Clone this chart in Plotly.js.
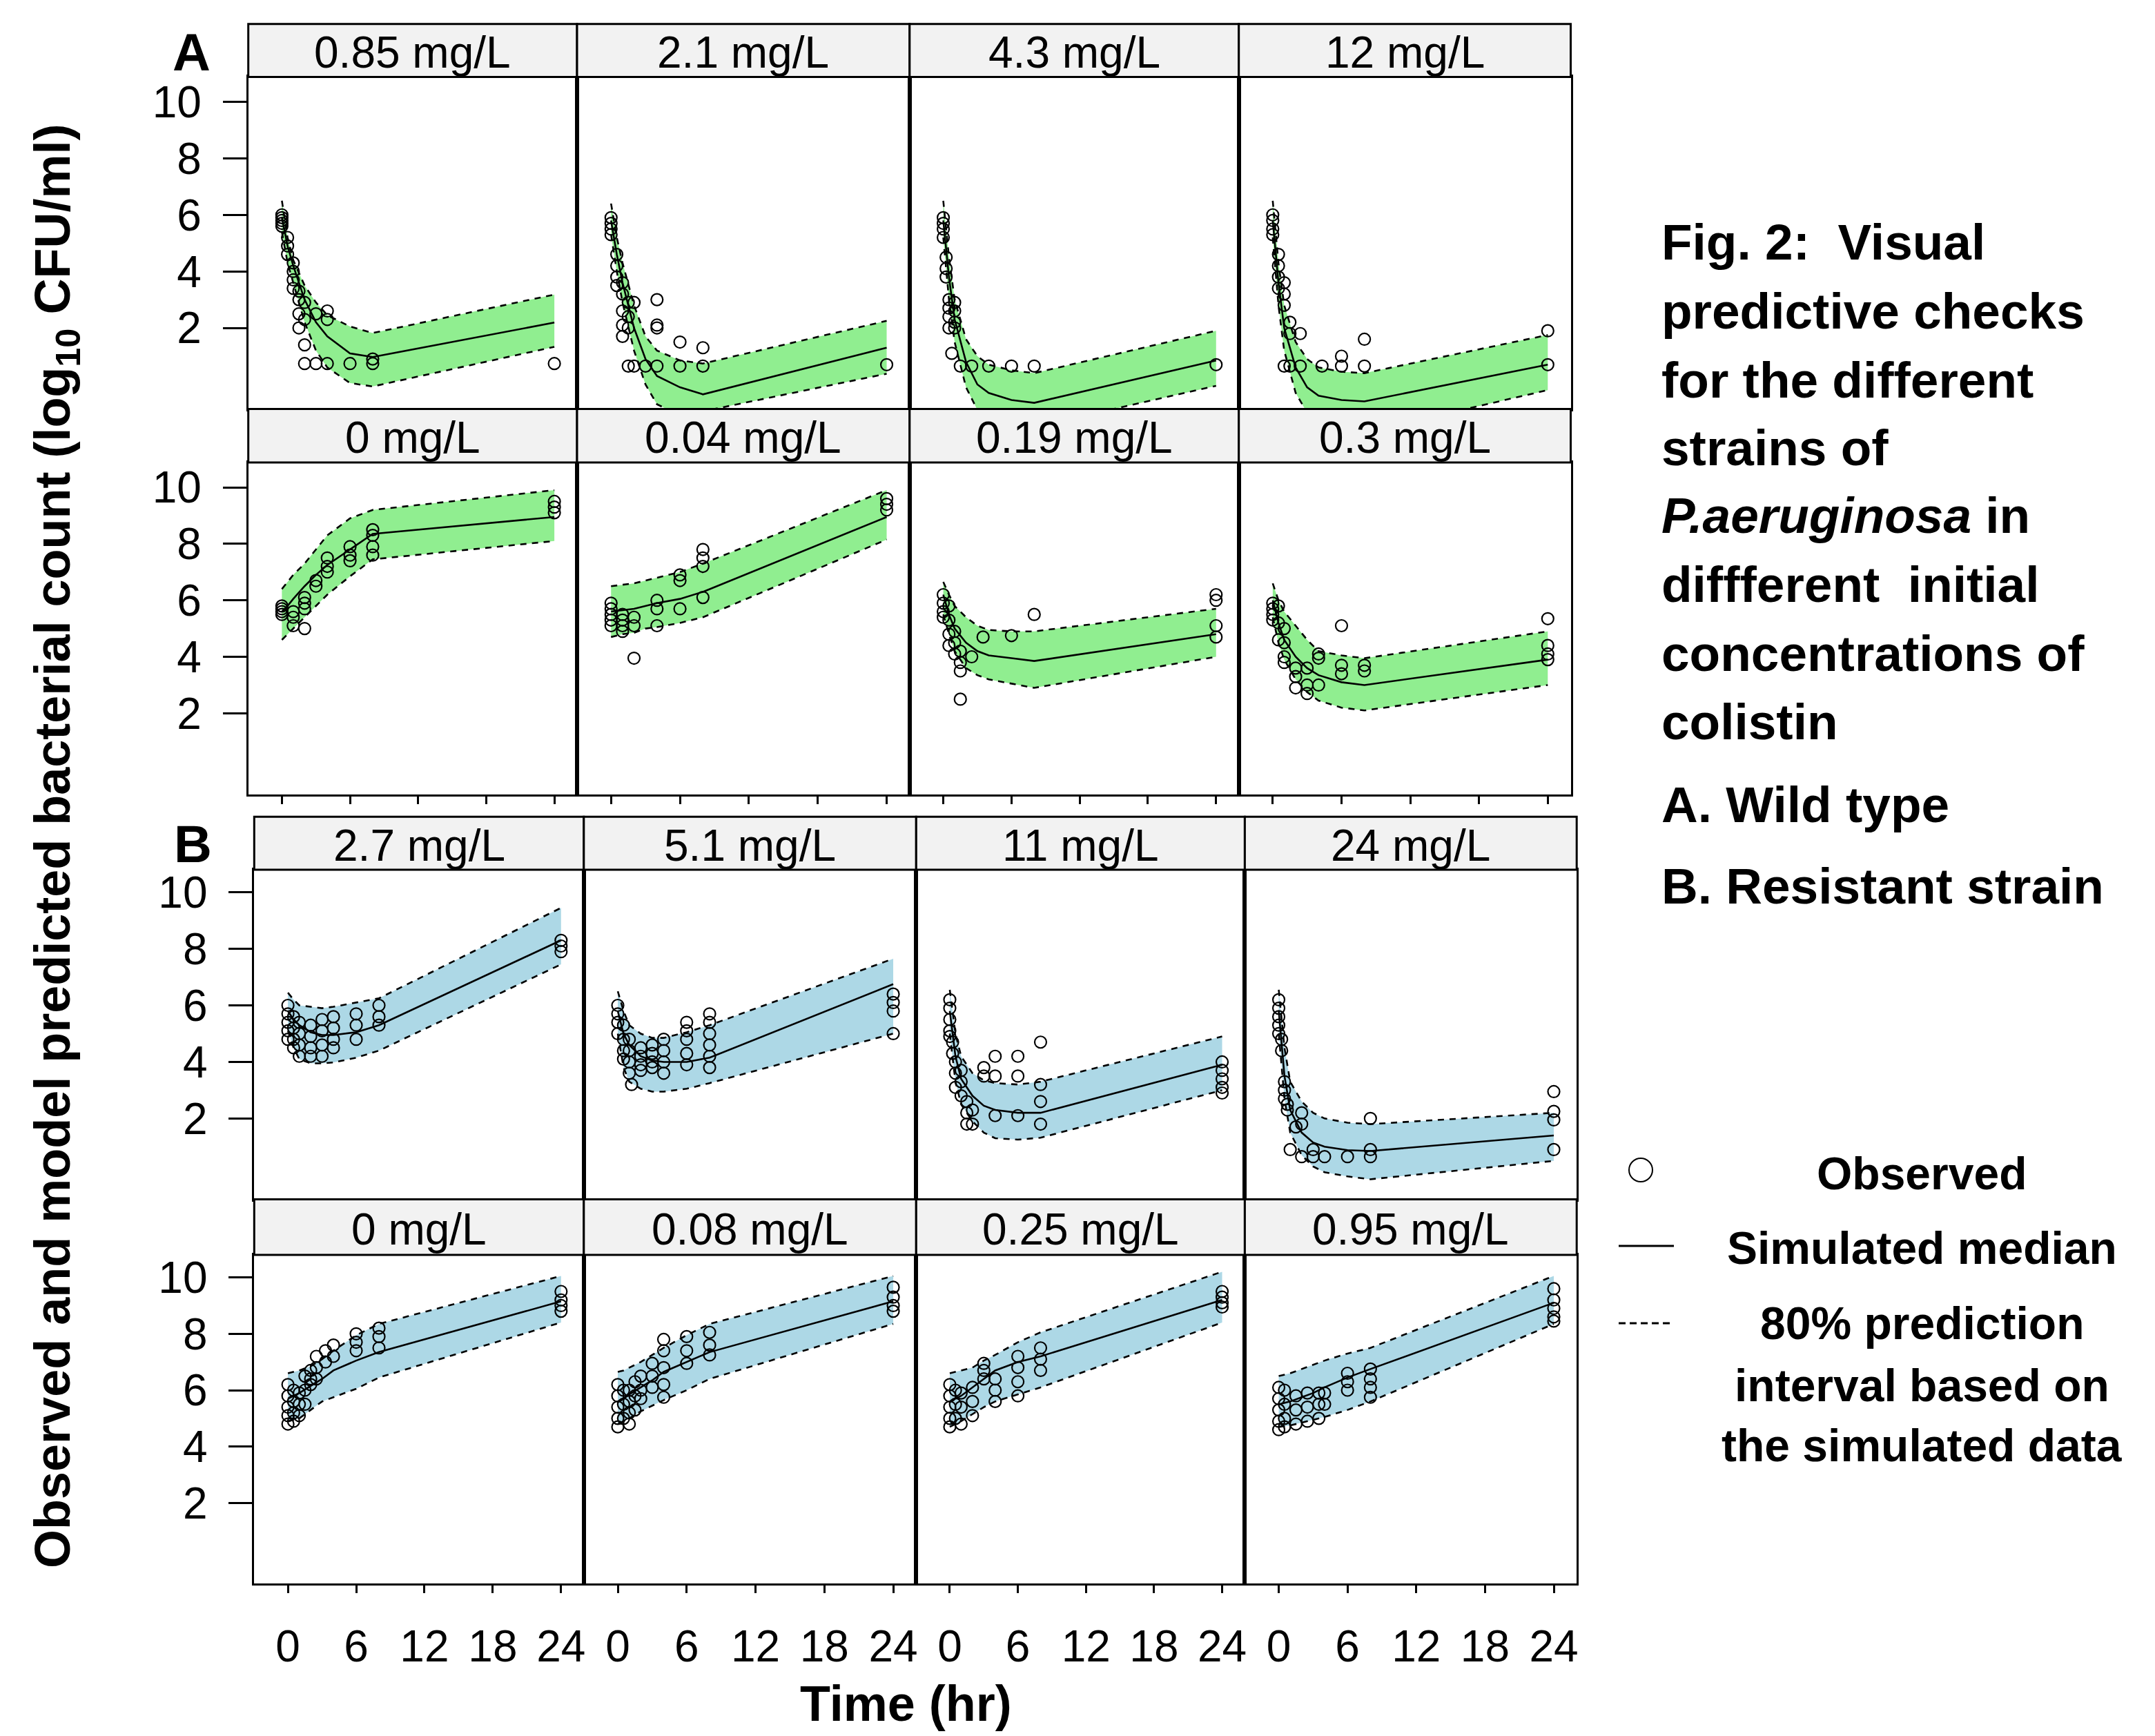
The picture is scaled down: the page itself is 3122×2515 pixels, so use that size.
<!DOCTYPE html>
<html><head><meta charset="utf-8">
<script src="https://cdn.plot.ly/plotly-3.0.1.min.js"></script>
<style>body{margin:0;background:#fff}#chart{width:3122px;height:2515px}</style>
</head><body><div id="chart"></div>
<script>
// ---------------- DATA ----------------
const simTime = [0, 0.5, 1, 2, 3, 4, 6, 8, 24];
const xTickVals = [0, 6, 12, 18, 24];
const yTickVals = [2, 4, 6, 8, 10];

const labelsWild = ['0.85 mg/L', '2.1 mg/L', '4.3 mg/L', '12 mg/L', '0 mg/L', '0.04 mg/L', '0.19 mg/L', '0.3 mg/L'];
const labelsResistant = ['2.7 mg/L', '5.1 mg/L', '11 mg/L', '24 mg/L', '0 mg/L', '0.08 mg/L', '0.25 mg/L', '0.95 mg/L'];

// simulated median / 10th / 90th percentile at simTime (wild type)
const wildMedian = [
  [5.9, 4.9, 4.2, 3.0, 2.2, 1.7, 1.1, 0.97, 2.19],
  [5.8, 4.6, 3.6, 2.0, 0.9, 0.3, -0.1, -0.35, 1.3],
  [5.8, 3.8, 2.3, 0.8, 0.0, -0.3, -0.55, -0.65, 0.85],
  [5.8, 3.6, 2.0, 0.6, -0.1, -0.4, -0.55, -0.6, 0.7],
  [5.6, 5.8, 6.05, 6.5, 6.9, 7.25, 7.8, 8.35, 8.95],
  [5.6, 5.62, 5.65, 5.7, 5.8, 5.9, 6.05, 6.3, 8.95],
  [6.2, 5.5, 5.0, 4.5, 4.2, 4.05, 3.95, 3.85, 4.8],
  [6.0, 5.2, 4.6, 4.0, 3.6, 3.35, 3.1, 3.0, 3.9]
];
const wildLower = [
  [5.4, 4.3, 3.6, 2.2, 1.2, 0.6, 0.05, -0.07, 1.33],
  [5.3, 4.0, 2.9, 1.2, 0.0, -0.7, -1.1, -0.95, 0.38],
  [5.2, 3.0, 1.5, -0.1, -0.9, -1.3, -1.5, -1.5, -0.05],
  [5.2, 2.8, 1.2, -0.3, -1.0, -1.4, -1.6, -1.7, -0.2],
  [4.6, 4.8, 5.0, 5.4, 5.8, 6.2, 6.85, 7.45, 8.1],
  [4.7, 4.75, 4.8, 4.85, 5.0, 5.05, 5.2, 5.4, 8.15],
  [5.5, 4.8, 4.2, 3.6, 3.35, 3.2, 3.05, 2.9, 4.0],
  [5.4, 4.5, 3.9, 3.2, 2.75, 2.45, 2.2, 2.1, 3.0]
];
const wildUpper = [
  [6.5, 5.2, 4.4, 3.5, 2.9, 2.45, 2.05, 1.82, 3.18],
  [6.4, 5.2, 4.3, 2.8, 1.7, 1.2, 0.85, 0.74, 2.25],
  [6.5, 4.5, 3.0, 1.6, 1.0, 0.7, 0.5, 0.4, 1.9],
  [6.5, 4.3, 2.8, 1.5, 0.9, 0.6, 0.45, 0.4, 1.75],
  [6.4, 6.65, 6.9, 7.3, 7.8, 8.3, 8.9, 9.2, 9.9],
  [6.5, 6.52, 6.55, 6.6, 6.7, 6.8, 7.0, 7.3, 9.9],
  [6.65, 6.2, 5.8, 5.4, 5.1, 4.95, 4.9, 4.9, 5.7],
  [6.6, 6.0, 5.6, 5.1, 4.6, 4.2, 4.05, 3.95, 4.9]
];
// resistant strain
const resMedian = [
  [5.8, 5.5, 5.3, 5.05, 4.95, 4.95, 5.05, 5.3, 8.3],
  [5.8, 5.0, 4.6, 4.2, 4.05, 4.0, 4.0, 4.15, 6.75],
  [5.8, 4.2, 3.4, 2.8, 2.45, 2.3, 2.2, 2.2, 3.9],
  [5.8, 3.5, 2.3, 1.5, 1.15, 1.0, 0.88, 0.85, 1.4],
  [5.7, 5.8, 5.9, 6.15, 6.4, 6.7, 7.05, 7.35, 9.15],
  [5.6, 5.7, 5.85, 6.1, 6.35, 6.65, 7.0, 7.35, 9.15],
  [5.6, 5.7, 5.8, 6.1, 6.4, 6.7, 7.0, 7.2, 9.2],
  [5.5, 5.55, 5.6, 5.75, 5.9, 6.1, 6.45, 6.75, 9.1]
];
const resLower = [
  [5.1, 4.5, 4.1, 3.95, 3.95, 3.98, 4.15, 4.4, 7.45],
  [5.0, 3.8, 3.3, 3.05, 2.95, 2.95, 3.05, 3.25, 5.0],
  [5.0, 3.3, 2.5, 1.9, 1.5, 1.3, 1.25, 1.32, 3.0],
  [5.0, 2.7, 1.5, 0.7, 0.3, 0.1, -0.05, -0.15, 0.5],
  [4.9, 4.95, 5.0, 5.3, 5.6, 5.75, 6.05, 6.45, 8.4],
  [4.8, 4.9, 5.0, 5.25, 5.45, 5.65, 6.0, 6.4, 8.35],
  [4.7, 4.8, 4.9, 5.15, 5.4, 5.6, 5.85, 6.1, 8.4],
  [4.7, 4.72, 4.75, 4.85, 4.95, 5.05, 5.3, 5.6, 8.35]
];
const resUpper = [
  [6.45, 6.2, 6.0, 5.95, 5.9, 5.95, 6.1, 6.25, 9.45],
  [6.5, 5.8, 5.3, 5.0, 4.85, 4.85, 5.05, 5.3, 7.65],
  [6.55, 5.0, 4.2, 3.6, 3.35, 3.25, 3.2, 3.3, 4.9],
  [6.55, 4.5, 3.3, 2.6, 2.2, 2.0, 1.85, 1.8, 2.2],
  [6.6, 6.65, 6.7, 6.85, 7.1, 7.4, 7.95, 8.35, 10.05],
  [6.65, 6.7, 6.8, 7.0, 7.25, 7.5, 7.95, 8.35, 10.05],
  [6.6, 6.65, 6.7, 6.8, 7.05, 7.25, 7.7, 8.05, 10.2],
  [6.5, 6.55, 6.6, 6.75, 6.9, 7.05, 7.3, 7.5, 10.05]
];

// observed [time (hr), log10 CFU/ml]
const obsWild085 = [[0,5.6],[0,5.8],[0,5.9],[0,6.0],[0,5.7],[0.5,5.2],[0.5,4.9],[0.5,4.6],[1,4.3],[1,4.0],[1,3.7],[1,3.4],[1.5,3.3],[1.5,3.0],[1.5,2.5],[1.5,2.0],[2,2.9],[2,2.3],[2,1.4],[2,0.74],[3,2.5],[3,0.74],[4,2.6],[4,2.3],[4,0.74],[6,0.74],[8,0.9],[8,0.74],[24,0.74]];
const obsWild21 = [[0,5.9],[0,5.7],[0,5.5],[0,5.3],[0.5,4.6],[0.5,4.2],[0.5,3.8],[0.5,3.5],[1,3.6],[1,3.2],[1,2.6],[1,2.1],[1,1.7],[1.5,2.9],[1.5,2.4],[1.5,2.0],[1.5,0.65],[2,2.9],[2,0.65],[3,0.65],[4,3.0],[4,2.1],[4,2.0],[4,0.65],[6,1.5],[6,0.65],[8,1.3],[8,0.65],[24,0.7]];
const obsWild43 = [[0,5.9],[0,5.7],[0,5.5],[0,5.2],[0.25,4.5],[0.25,4.1],[0.25,3.8],[0.5,3.0],[0.5,2.7],[0.5,2.4],[0.5,2.0],[1,2.9],[1,2.6],[1,2.2],[1,2.0],[0.75,1.1],[1.5,0.65],[2.5,0.65],[4,0.65],[6,0.65],[8,0.65],[24,0.7]];
const obsWild12 = [[0,6.0],[0,5.8],[0,5.5],[0,5.3],[0.5,4.6],[0.5,4.2],[0.5,3.8],[0.5,3.4],[1,3.6],[1,3.2],[1,2.8],[1.5,2.2],[1.5,1.8],[2.4,1.8],[1,0.65],[1.5,0.65],[2.4,0.65],[4.3,0.65],[6,1.0],[6,0.65],[8,0.65],[8,1.6],[24,1.9],[24,0.7]];
const obsWild0 = [[0,5.5],[0,5.6],[0,5.7],[0,5.8],[1,5.1],[1,5.4],[1,5.6],[2,5.0],[2,5.7],[2,5.9],[2,6.1],[3,6.5],[3,6.7],[4,7.0],[4,7.2],[4,7.5],[6,7.4],[6,7.6],[6,7.9],[8,7.6],[8,7.9],[8,8.3],[8,8.5],[24,9.1],[24,9.3],[24,9.5]];
const obsWild004 = [[0,5.9],[0,5.7],[0,5.5],[0,5.3],[0,5.1],[1,5.5],[1,5.3],[1,5.1],[1,4.9],[2,5.4],[2,5.1],[2,3.95],[4,6.0],[4,5.7],[4,5.1],[6,6.9],[6,6.7],[6,5.7],[8,7.8],[8,7.5],[8,7.2],[8,6.1],[24,9.6],[24,9.4],[24,9.2]];
const obsWild019 = [[0,6.2],[0,5.9],[0,5.6],[0,5.4],[0.5,5.8],[0.5,5.3],[0.5,4.8],[0.5,4.4],[1,4.9],[1,4.5],[1,4.1],[1.5,4.2],[1.5,3.8],[1.5,3.5],[1.5,2.5],[2.5,4.0],[3.5,4.7],[6,4.75],[8,5.5],[24,6.2],[24,6.0],[24,5.1],[24,4.7]];
const obsWild03 = [[0,5.9],[0,5.7],[0,5.5],[0,5.3],[0.5,5.8],[0.5,5.2],[0.5,4.6],[1,5.0],[1,4.5],[1,4.0],[1,3.8],[2,3.6],[2,3.3],[2,2.9],[3,3.6],[3,3.0],[3,2.7],[4,4.1],[4,3.95],[4,3.0],[6,5.1],[6,3.7],[6,3.4],[8,3.7],[8,3.5],[24,5.35],[24,4.4],[24,4.1],[24,3.9]];

const obsRes27 = [[0,6.0],[0,5.7],[0,5.4],[0,5.1],[0,4.8],[0.5,5.6],[0.5,5.2],[0.5,4.8],[0.5,4.5],[1,5.4],[1,5.0],[1,4.6],[1,4.2],[2,5.3],[2,4.9],[2,4.5],[2,4.2],[3,5.5],[3,5.1],[3,4.6],[3,4.2],[4,5.6],[4,5.2],[4,4.8],[4,4.5],[6,5.7],[6,5.3],[6,4.8],[8,6.0],[8,5.6],[8,5.3],[24,8.3],[24,8.1],[24,7.9]];
const obsRes51 = [[0,6.0],[0,5.7],[0,5.4],[0,5.0],[0.5,5.3],[0.5,4.8],[0.5,4.4],[0.5,4.1],[1,4.8],[1,4.4],[1,4.0],[1,3.6],[1.2,3.2],[2,4.5],[2,4.2],[2,3.9],[2,3.7],[3,4.6],[3,4.3],[3,4.0],[3,3.8],[4,4.8],[4,4.4],[4,4.0],[4,3.6],[6,5.4],[6,5.1],[6,4.8],[6,4.3],[6,3.9],[8,5.7],[8,5.4],[8,5.0],[8,4.6],[8,4.2],[8,3.8],[24,6.4],[24,6.1],[24,5.8],[24,5.0]];
const obsRes11 = [[0,6.2],[0,5.9],[0,5.5],[0,5.1],[0,4.9],[0.25,4.7],[0.25,4.3],[0.5,4.0],[0.5,3.6],[0.5,3.1],[1,3.7],[1,3.3],[1,2.8],[1.5,2.6],[1.5,2.2],[1.5,1.8],[2,2.3],[2,1.8],[3,3.8],[3,3.5],[4,4.2],[4,3.5],[4,2.1],[6,4.2],[6,3.5],[6,2.1],[8,4.7],[8,3.2],[8,2.6],[8,1.8],[24,4.0],[24,3.7],[24,3.4],[24,3.1],[24,2.9]];
const obsRes24 = [[0,6.2],[0,5.9],[0,5.6],[0,5.3],[0,5.0],[0.25,4.8],[0.25,4.4],[0.5,3.3],[0.5,3.0],[0.5,2.7],[0.75,2.5],[0.75,2.3],[1,0.9],[1.5,1.7],[2,2.2],[2,1.8],[2,0.65],[3,0.9],[3,0.65],[4,0.65],[6,0.65],[8,2.0],[8,0.9],[8,0.65],[24,2.95],[24,2.25],[24,1.95],[24,0.9]];
const obsRes0 = [[0,6.2],[0,5.8],[0,5.4],[0,5.1],[0,4.8],[0.5,6.0],[0.5,5.6],[0.5,5.2],[0.5,4.9],[1,5.9],[1,5.5],[1,5.1],[1.5,6.5],[1.5,6.0],[1.5,5.5],[2,6.7],[2,6.4],[2,6.2],[2.5,7.2],[2.5,6.8],[2.5,6.4],[3.3,7.4],[3.3,7.0],[4,7.6],[4,7.2],[6,8.0],[6,7.7],[6,7.4],[8,8.2],[8,7.9],[8,7.5],[24,9.5],[24,9.2],[24,9.0],[24,8.8]];
const obsRes008 = [[0,6.2],[0,5.8],[0,5.4],[0,5.0],[0,4.7],[0.5,6.0],[0.5,5.5],[0.5,5.0],[1,6.0],[1,5.6],[1,5.2],[1,4.8],[1.5,6.3],[1.5,5.8],[1.5,5.3],[2,6.5],[2,6.0],[2,5.7],[3,6.95],[3,6.5],[3,6.1],[4,7.8],[4,7.4],[4,6.8],[4,6.2],[4,5.75],[6,7.9],[6,7.4],[6,6.95],[8,8.05],[8,7.6],[8,7.25],[24,9.65],[24,9.3],[24,9.0],[24,8.8]];
const obsRes025 = [[0,6.2],[0,5.8],[0,5.4],[0,5.0],[0,4.7],[0.5,6.0],[0.5,5.5],[0.5,5.0],[1,5.9],[1,5.4],[1,4.8],[2,6.1],[2,5.6],[2,5.1],[3,6.95],[3,6.7],[3,6.4],[4,6.4],[4,6.0],[4,5.6],[6,7.2],[6,6.8],[6,6.3],[6,5.8],[8,7.5],[8,7.1],[8,6.7],[24,9.5],[24,9.3],[24,9.1],[24,8.95]];
const obsRes095 = [[0,6.1],[0,5.7],[0,5.3],[0,4.9],[0,4.6],[0.5,6.0],[0.5,5.5],[0.5,5.0],[0.5,4.7],[1.5,5.8],[1.5,5.3],[1.5,4.8],[2.5,5.9],[2.5,5.4],[2.5,4.9],[3.5,5.9],[3.5,5.5],[3.5,5.0],[4,5.9],[4,5.5],[6,6.6],[6,6.3],[6,6.0],[8,6.75],[8,6.4],[8,6.1],[8,5.75],[24,9.6],[24,9.2],[24,8.9],[24,8.6],[24,8.45]];

const obsWild = [obsWild085, obsWild21, obsWild43, obsWild12, obsWild0, obsWild004, obsWild019, obsWild03];
const obsRes = [obsRes27, obsRes51, obsRes11, obsRes24, obsRes0, obsRes008, obsRes025, obsRes095];

// ---------------- LAYOUT GEOMETRY (pixels) ----------------
const W = 3122, H = 2515;
const px = v => v / W;
const py = v => 1 - v / H;

const groups = [
  { key: 'A', cols: [359.7, 836, 1317.8, 1794.7, 2275.5], stripTop: [34.8, 592.6], plotTop: [111.4, 670], plotBot: [592.6, 1150.8], yr: [-0.87, 10.88], color: '#90EE90',
    labels: labelsWild, med: wildMedian, lo: wildLower, hi: wildUpper, obs: obsWild, xlabels: false },
  { key: 'B', cols: [368.3, 845.8, 1327.3, 1803.4, 2284.2], stripTop: [1183.3, 1737.5], plotTop: [1259.9, 1817.9], plotBot: [1737.5, 2294.3], yr: [-0.86, 10.80], color: '#ADD8E6',
    labels: labelsResistant, med: resMedian, lo: resLower, hi: resUpper, obs: obsRes, xlabels: true }
];

const tickFont = { family: 'Liberation Sans, Arial, sans-serif', size: 64, color: '#000' };
const traces = [];
const layout = {
  width: W, height: H, margin: { l: 0, r: 0, t: 0, b: 0, autoexpand: false },
  paper_bgcolor: '#fff', plot_bgcolor: '#fff', showlegend: false,
  shapes: [], annotations: []
};

let n = 0;
groups.forEach(g => {
  for (let k = 0; k < 8; k++) {
    n++;
    const r = Math.floor(k / 4), c = k % 4;
    const sfx = n === 1 ? '' : String(n);
    const xa = 'x' + sfx, ya = 'y' + sfx;
    layout['xaxis' + sfx] = {
      domain: [px(g.cols[c]), px(g.cols[c + 1])], range: [-2.96, 26.0], anchor: ya,
      showline: true, mirror: true, linewidth: 3, linecolor: '#000',
      showgrid: false, zeroline: false, fixedrange: true,
      ticks: r === 1 ? 'outside' : '', ticklen: 11, tickwidth: 3, tickcolor: '#000',
      tickmode: 'array', tickvals: xTickVals,
      showticklabels: r === 1 && g.xlabels, tickfont: tickFont, ticklabelstandoff: 22
    };
    layout['yaxis' + sfx] = {
      domain: [py(g.plotBot[r]), py(g.plotTop[r])], range: g.yr, anchor: xa,
      showline: true, mirror: true, linewidth: 3, linecolor: '#000',
      showgrid: false, zeroline: false, fixedrange: true,
      ticks: c === 0 ? 'outside' : '', ticklen: 34, tickwidth: 3, tickcolor: '#000',
      tickmode: 'array', tickvals: yTickVals,
      showticklabels: c === 0, tickfont: tickFont, ticklabelstandoff: 18
    };
    // strip
    layout.shapes.push({ type: 'rect', xref: 'paper', yref: 'paper',
      x0: px(g.cols[c]), x1: px(g.cols[c + 1]), y0: py(g.plotTop[r]), y1: py(g.stripTop[r]),
      fillcolor: '#f2f2f2', line: { color: '#000', width: 3 }, layer: 'above' });
    layout.annotations.push({ xref: 'paper', yref: 'paper', showarrow: false,
      x: px((g.cols[c] + g.cols[c + 1]) / 2), y: py((g.stripTop[r] + g.plotTop[r]) / 2 + 3),
      xanchor: 'center', yanchor: 'middle', text: g.labels[k],
      font: { family: 'Liberation Sans, Arial, sans-serif', size: 64, color: '#000' } });

    const lo = g.lo[k], hi = g.hi[k], med = g.med[k];
    // band
    traces.push({ type: 'scatter', mode: 'lines', xaxis: xa, yaxis: ya,
      x: simTime.concat(simTime.slice().reverse()), y: lo.concat(hi.slice().reverse()),
      fill: 'toself', fillcolor: g.color, line: { width: 0 }, hoverinfo: 'skip' });
    traces.push({ type: 'scatter', mode: 'lines', xaxis: xa, yaxis: ya, x: simTime, y: lo,
      line: { color: '#000', width: 2.6, dash: '9px,8px' } });
    traces.push({ type: 'scatter', mode: 'lines', xaxis: xa, yaxis: ya, x: simTime, y: hi,
      line: { color: '#000', width: 2.6, dash: '9px,8px' } });
    traces.push({ type: 'scatter', mode: 'lines', xaxis: xa, yaxis: ya, x: simTime, y: med,
      line: { color: '#000', width: 2.6 } });
    traces.push({ type: 'scatter', mode: 'markers', xaxis: xa, yaxis: ya,
      x: g.obs[k].map(d => d[0]), y: g.obs[k].map(d => d[1]),
      marker: { symbol: 'circle-open', size: 17, color: '#000', line: { width: 2.2, color: '#000' } } });
  }
});

// panel letters
const boldFont = (s) => ({ family: 'Liberation Sans, Arial, sans-serif', size: s, color: '#000' });
layout.annotations.push({ xref: 'paper', yref: 'paper', showarrow: false, x: px(277), y: py(75), xanchor: 'center', yanchor: 'middle', text: '<b>A</b>', font: boldFont(76) });
layout.annotations.push({ xref: 'paper', yref: 'paper', showarrow: false, x: px(279), y: py(1222), xanchor: 'center', yanchor: 'middle', text: '<b>B</b>', font: boldFont(76) });
// axis titles
layout.annotations.push({ xref: 'paper', yref: 'paper', showarrow: false, x: px(82), y: py(1226), xanchor: 'center', yanchor: 'middle', textangle: -90,
  text: '<b>Observed and model predicted bacterial count (log<sub>10</sub> CFU/ml)</b>', font: boldFont(72) });
layout.annotations.push({ xref: 'paper', yref: 'paper', showarrow: false, x: px(1312), y: py(2510), xanchor: 'center', yanchor: 'bottom',
  text: '<b>Time (hr)</b>', font: boldFont(72) });

// caption
const captionLines = ['Fig. 2:  Visual', 'predictive checks', 'for the different', 'strains of', '<i>P.aeruginosa</i> in', 'diffferent  initial', 'concentrations of', 'colistin', 'A. Wild type', 'B. Resistant strain'];
const captionY = [350, 450, 550, 649, 747, 846, 946, 1045, 1165, 1284];
captionLines.forEach((t, i) => layout.annotations.push({ xref: 'paper', yref: 'paper', showarrow: false,
  x: px(2405), y: py(captionY[i]), xanchor: 'left', yanchor: 'middle', text: '<b>' + t + '</b>',
  font: { family: 'Liberation Sans, Arial, sans-serif', size: 73, color: '#000' } }));

// legend
const legendLines = ['Observed', 'Simulated median', '80% prediction', 'interval based on', 'the simulated data'];
const legendY = [1700, 1808, 1917, 2007, 2094];
legendLines.forEach((t, i) => layout.annotations.push({ xref: 'paper', yref: 'paper', showarrow: false,
  x: px(2784), y: py(legendY[i]), xanchor: 'center', yanchor: 'middle', text: '<b>' + t + '</b>', font: boldFont(66) }));
layout.shapes.push({ type: 'circle', xref: 'paper', yref: 'paper', x0: px(2360), x1: px(2394), y0: py(1712), y1: py(1678), line: { color: '#000', width: 2 } });
layout.shapes.push({ type: 'line', xref: 'paper', yref: 'paper', x0: px(2345), x1: px(2425), y0: py(1805), y1: py(1805), line: { color: '#000', width: 3 } });
layout.shapes.push({ type: 'line', xref: 'paper', yref: 'paper', x0: px(2345), x1: px(2425), y0: py(1917), y1: py(1917), line: { color: '#000', width: 3, dash: '10px,6px' } });

Plotly.newPlot('chart', traces, layout, { staticPlot: true });
</script>
</body></html>
